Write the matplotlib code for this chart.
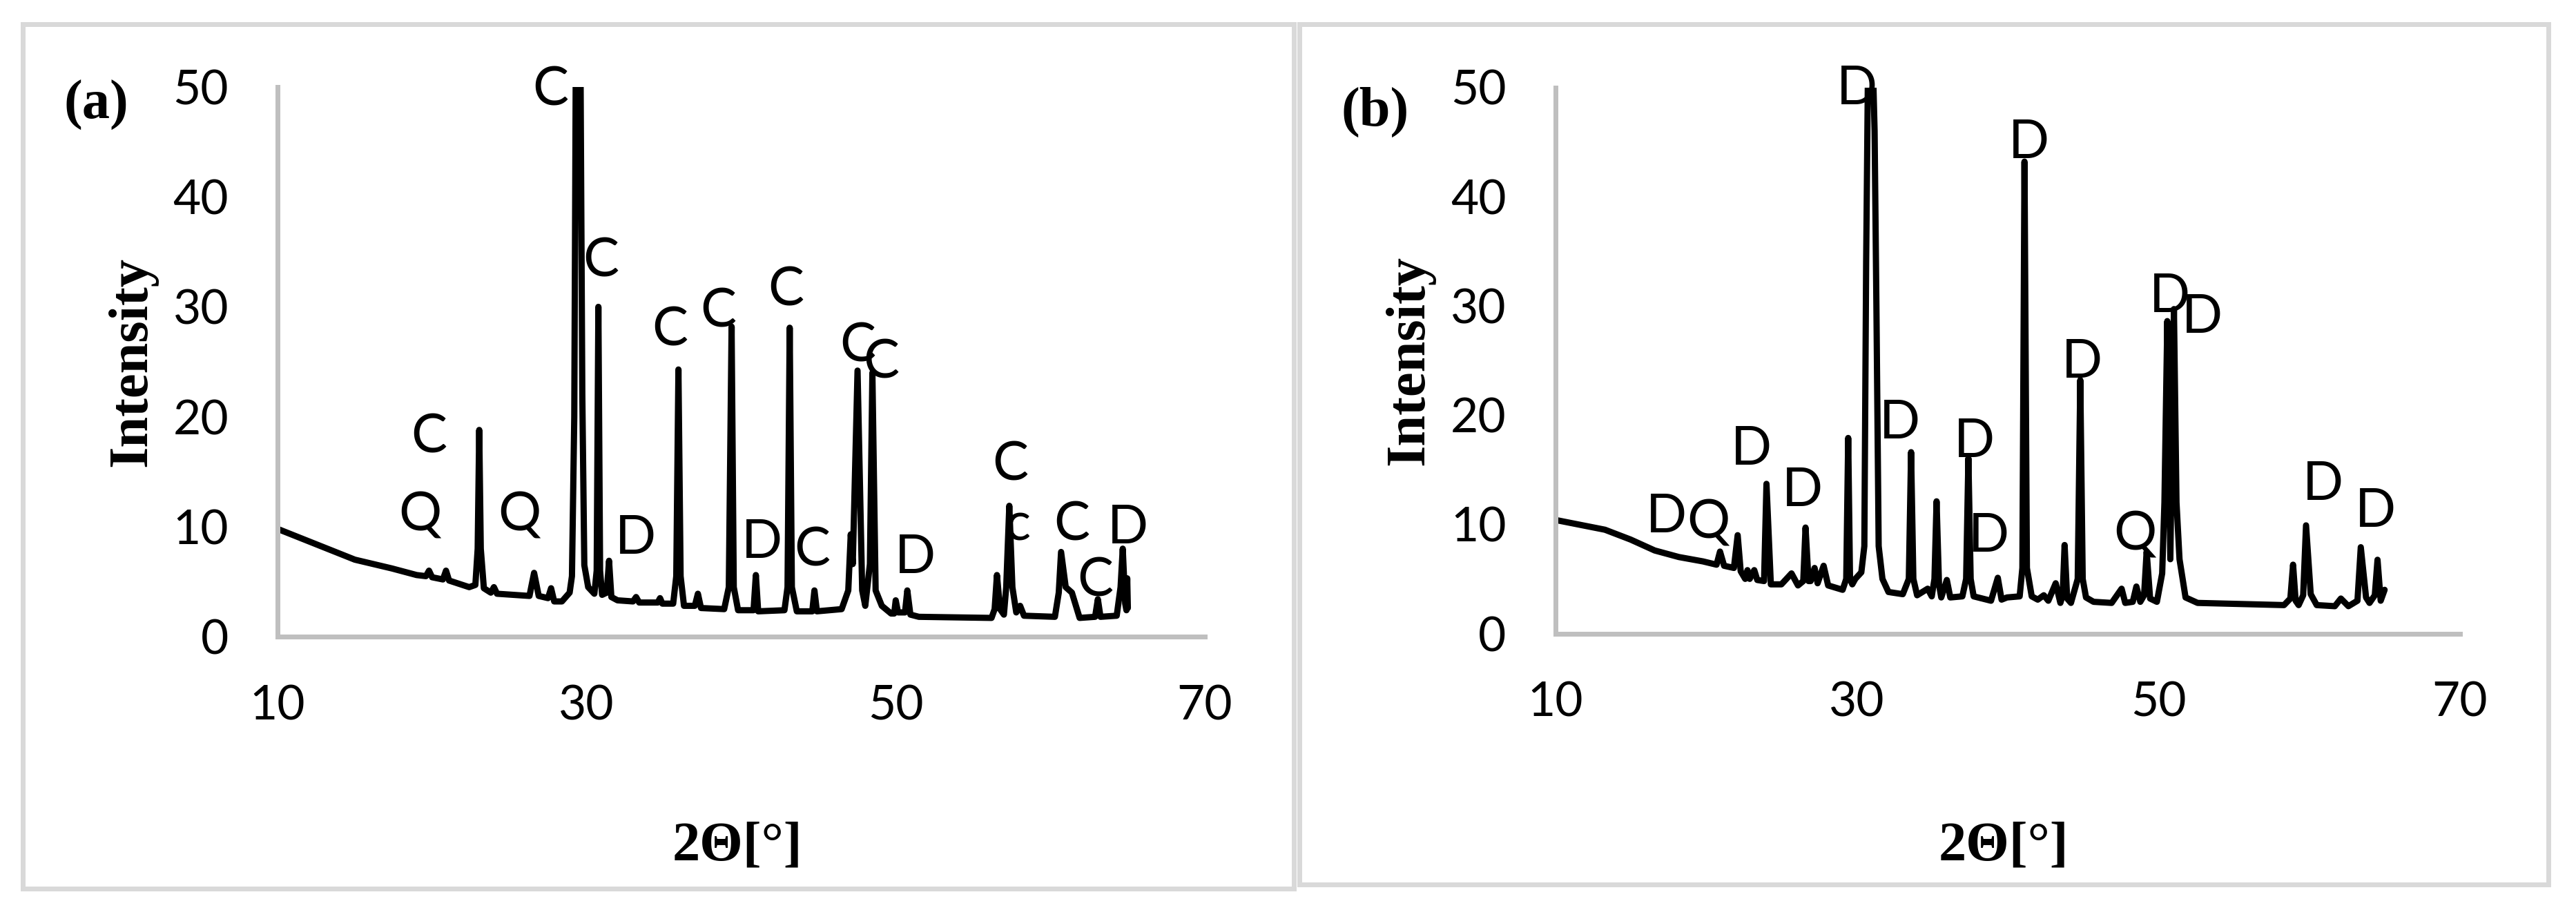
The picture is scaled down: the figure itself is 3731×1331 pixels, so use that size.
import matplotlib
matplotlib.use("Agg")
import matplotlib.pyplot as plt
from matplotlib.patches import Rectangle

# ---------------- data ----------------
two_theta_a = [10.0, 12.5, 15.0, 17.4, 19.0, 19.6, 19.8, 20.0, 20.7, 20.9, 21.1, 22.4, 22.8,
               22.95, 23.05, 23.15, 23.35, 23.8, 24.0, 24.2, 26.3, 26.6, 26.9, 27.5, 27.7, 27.9,
               28.4, 28.9, 29.05, 29.2, 29.3, 29.45, 29.6, 29.72, 29.85, 30.1, 30.5, 30.65,
               30.76, 30.87, 31.0, 31.3, 31.45, 31.6, 32.0, 33.0, 33.2, 33.4, 34.6, 34.75, 34.9,
               35.6, 35.8, 35.94, 36.08, 36.3, 37.0, 37.2, 37.4, 38.9, 39.2, 39.38, 39.52, 39.8,
               40.8, 40.95, 41.1, 42.8, 43.0, 43.14, 43.28, 43.6, 44.6, 44.74, 44.9, 46.5, 46.93,
               47.09, 47.22, 47.53, 47.83, 48.03, 48.33, 48.49, 48.7, 49.1, 49.7, 49.9, 50.0,
               50.15, 50.6, 50.75, 50.95, 51.5, 56.2, 56.4, 56.55, 56.75, 57.0, 57.15, 57.35,
               57.55, 57.8, 58.05, 58.3, 60.3, 60.55, 60.7, 61.0, 61.4, 61.9, 62.9, 63.08, 63.25,
               64.3, 64.55, 64.69, 64.85, 64.93, 64.98, 65.02]
intensity_a = [9.8, 8.4, 7.0, 6.2, 5.6, 5.5, 6.0, 5.4, 5.2, 6.0, 5.1, 4.5, 4.7,
               8.0, 18.8, 8.0, 4.4, 4.0, 4.5, 3.9, 3.7, 5.8, 3.7, 3.5, 4.4, 3.2,
               3.2, 4.0, 5.5, 20.0, 53.0, 48.0, 53.0, 22.0, 6.5, 4.5, 3.9, 6.0,
               30.0, 6.0, 3.8, 4.0, 6.9, 3.6, 3.3, 3.2, 3.6, 3.1, 3.1, 3.5, 3.0,
               3.0, 5.5, 24.3, 5.5, 2.8, 2.8, 3.9, 2.6, 2.5, 4.5, 28.2, 4.5, 2.4,
               2.4, 5.6, 2.3, 2.4, 4.5, 28.1, 4.5, 2.3, 2.3, 4.2, 2.3, 2.5, 4.2,
               9.3, 6.6, 24.2, 4.2, 2.8, 6.6, 24.0, 4.2, 2.8, 2.1, 2.1, 3.3,
               2.2, 2.2, 4.2, 2.0, 1.8, 1.7, 2.5, 5.6, 2.5, 2.0, 4.5, 11.9,
               4.5, 2.2, 2.8, 1.9, 1.8, 4.0, 7.7, 4.5, 4.0, 1.7, 1.8, 3.4, 1.8,
               1.9, 4.5, 8.0, 3.0, 2.4, 5.3, 2.6]

two_theta_b = [10.0, 13.3, 15.0, 16.6, 18.2, 19.8, 20.7, 20.93, 21.2, 21.85, 22.1, 22.3, 22.6,
               22.75, 22.9, 23.2, 23.4, 23.85, 24.01, 24.3, 25.0, 25.67, 26.1, 26.45, 26.6, 26.8,
               26.94, 27.2, 27.4, 27.8, 28.1, 29.06, 29.3, 29.43, 29.55, 29.7, 29.9, 30.3, 30.5,
               30.62, 30.75, 30.92, 31.05, 31.18, 31.3, 31.45, 31.7, 32.1, 33.05, 33.45, 33.6, 33.75, 34.0,
               34.7, 34.97, 35.15, 35.29, 35.45, 35.6, 35.97, 36.2, 37.0, 37.25, 37.4, 37.55,
               37.75, 38.9, 39.35, 39.6, 39.96, 40.8, 40.98, 41.12, 41.28, 41.6, 42.0, 42.4, 42.7,
               43.19, 43.5, 43.65, 43.78, 43.95, 44.2, 44.65, 44.82, 44.98, 45.2, 45.7, 46.9,
               47.56, 47.8, 48.3, 48.54, 48.8, 49.05, 49.22, 49.45, 49.9, 50.25, 50.4, 50.59,
               50.79, 51.03, 51.2, 51.4, 51.8, 52.6, 58.33, 58.75, 58.93, 59.1, 59.3, 59.6, 59.79,
               60.1, 60.5, 61.7, 62.1, 62.6, 63.2, 63.42, 63.77, 64.0, 64.35, 64.53, 64.74, 65.0]
intensity_b = [10.4, 9.5, 8.6, 7.6, 7.0, 6.6, 6.3, 7.5, 6.2, 6.0, 9.0, 5.7, 5.0,
               5.8, 5.0, 5.8, 4.9, 4.8, 13.7, 4.5, 4.5, 5.5, 4.4, 4.8, 9.7, 4.8,
               4.8, 6.0, 4.6, 6.2, 4.4, 4.0, 5.0, 17.9, 5.0, 4.5, 5.0, 5.6, 8.0,
               34.0, 53.0, 49.0, 53.0, 46.0, 30.0, 8.0, 5.0, 3.8, 3.6, 5.0, 16.6, 5.0, 3.5,
               4.1, 3.4, 5.0, 12.1, 4.5, 3.3, 4.9, 3.3, 3.4, 5.0, 16.05, 5.0,
               3.4, 3.0, 5.1, 3.1, 3.3, 3.4, 6.0, 43.2, 6.0, 3.4, 3.1, 3.5, 3.0,
               4.6, 2.8, 3.5, 8.1, 3.2, 2.8, 5.0, 23.2, 5.0, 3.3, 2.9, 2.8,
               4.1, 2.8, 2.9, 4.3, 2.9, 3.5, 7.5, 3.2, 2.9, 5.5, 12.0, 28.6,
               6.8, 29.7, 12.0, 6.8, 3.3, 2.8, 2.6, 3.2, 6.3, 3.0, 2.6, 3.5, 9.9,
               3.6, 2.6, 2.5, 3.2, 2.5, 3.0, 7.9, 3.3, 2.8, 3.5, 6.75, 3.0, 4.0]

# peak-label annotations (letter, position of the glyph centre)
labels_a = ["C", "Q", "Q", "C", "C", "D", "C", "C", "D", "C", "C", "C", "C", "D", "C", "c", "C", "C", "D"]
label_x_a = [19.8, 19.2, 25.65, 27.67, 30.9, 33.15, 35.4, 38.5, 41.35, 42.9, 44.6, 47.53, 49.05,
             51.25, 57.4, 57.9, 61.4, 62.9, 65.0]
label_y_a = [18.5, 11.4, 11.4, 50.1, 34.5, 9.3, 28.2, 29.9, 8.9, 31.9, 8.2, 26.8, 25.3,
             7.5, 16.0, 10.05, 10.5, 5.4, 10.2]

labels_b = ["D", "Q", "D", "D", "D", "D", "D", "D", "D", "D", "Q", "D", "D", "D", "D"]
label_x_b = [17.35, 20.15, 23.0, 26.4, 30.0, 32.86, 37.8, 38.76, 41.4, 44.95, 48.43, 50.75, 52.9, 60.9, 64.4]
label_y_b = [11.0, 10.5, 17.2, 13.4, 50.2, 19.6, 17.9, 9.25, 45.3, 25.2, 9.4, 31.2, 29.3, 14.0, 11.5]

x_ticks = [10, 30, 50, 70]
y_ticks = [0, 10, 20, 30, 40, 50]
panel_tags = ["(a)", "(b)"]
x_label = "2\u0398[\u00b0]"
y_label = "Intensity"

# ---------------- layout ----------------
W, H = 3731, 1331
DPI = 100
plt.rcParams["font.family"] = ["Lato", "DejaVu Sans"]

fig = plt.figure(figsize=(W / DPI, H / DPI), dpi=DPI)
fig.patch.set_facecolor("white")


def fx(px):
    return px / W


def fy(py):
    return 1 - py / H


PX = 72.0 / DPI  # points per pixel

# panel frames (light grey)
for (x0, y0, x1, y1) in [(32.5, 35.0, 1873.5, 1286.5), (1882.5, 34.5, 3691.5, 1280.5)]:
    fig.add_artist(Rectangle((fx(x0), fy(y1)), (x1 - x0) / W, (y1 - y0) / H,
                             transform=fig.transFigure, fill=False,
                             edgecolor="#d9d9d9", linewidth=7 * PX))

panels = [
    dict(rect=(402, 126, 1745, 922), x=two_theta_a, y=intensity_a,
         lab=labels_a, lx=label_x_a, ly=label_y_a, tag=panel_tags[0], tagpos=(92, 172)),
    dict(rect=(2252.5, 126.5, 3563, 917.5), x=two_theta_b, y=intensity_b,
         lab=labels_b, lx=label_x_b, ly=label_y_b, tag=panel_tags[1], tagpos=(1943, 182)),
]

TICK_FS = 50
LAB_FS = 56
BOLD_FS = 58
serif = ["Liberation Serif", "DejaVu Serif"]

for p in panels:
    l, t, r, b = p["rect"]
    ax = fig.add_axes([fx(l), fy(b), (r - l) / W, (b - t) / H])
    ax.set_xlim(10, 70)
    ax.set_ylim(0, 50)
    ax.plot(p["x"], p["y"], color="black", linewidth=6.5, solid_joinstyle="round",
            solid_capstyle="round", clip_on=True)
    for s in ["top", "right"]:
        ax.spines[s].set_visible(False)
    for s in ["left", "bottom"]:
        ax.spines[s].set_color("#bfbfbf")
        ax.spines[s].set_linewidth(7 * PX)
    ax.set_xticks(x_ticks)
    ax.set_yticks(y_ticks)
    ax.tick_params(axis="both", length=0, labelsize=TICK_FS, colors="black")
    ax.tick_params(axis="y", pad=51)
    ax.tick_params(axis="x", pad=50)
    ax.patch.set_alpha(0)

    for s, x, y in zip(p["lab"], p["lx"], p["ly"]):
        h = (0.52 if s.islower() else 0.7165) * LAB_FS
        ax.annotate(s, (x, y), xytext=(0, -h / 2), textcoords="offset points",
                    ha="center", va="baseline", fontsize=LAB_FS,
                    annotation_clip=False)

    # panel tag, axis titles
    fig.text(fx(p["tagpos"][0]), fy(p["tagpos"][1]), p["tag"], ha="left", va="baseline",
             family=serif, weight="bold", fontsize=BOLD_FS)
    fig.text(fx(l - 191), fy((t + b) / 2), y_label, rotation=90, rotation_mode="anchor",
             ha="center", va="baseline", family=serif, weight="bold", fontsize=BOLD_FS)
    fig.text(fx((l + r) / 2 - 6), fy(1246), x_label, ha="center", va="baseline",
             family=serif, weight="bold", fontsize=BOLD_FS)

fig.savefig("out.png", dpi=DPI, facecolor="white")
